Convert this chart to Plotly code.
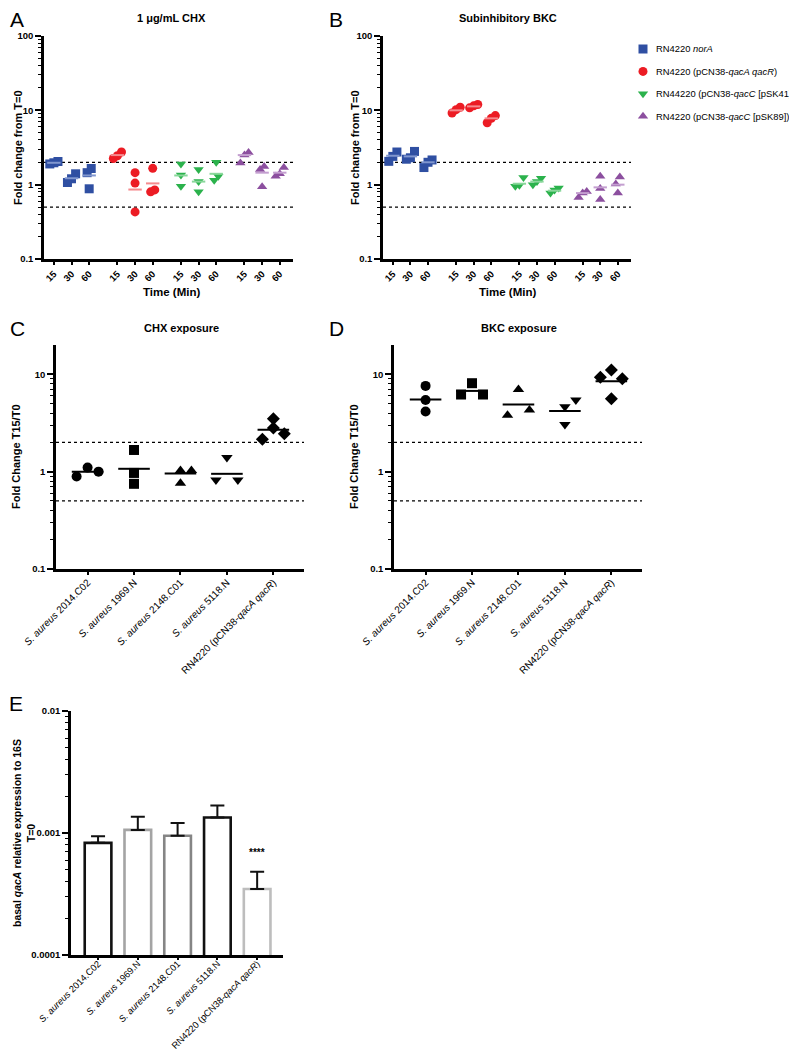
import numpy as np
import plotly.graph_objects as go

W, H = 797, 1050
FONT = "Liberation Sans"

# ---------------- Data: panels A and B ----------------
TIME_LABELS = ["15", "30", "60"]
SERIES_NAMES = [
    "RN4220 <i>norA</i>",
    "RN4220 (pCN38-<i>qacA qacR</i>)",
    "RN44220 (pCN38-<i>qacC</i> [pSK41])",
    "RN4220 (pCN38-<i>qacC</i> [pSK89])",
]
SERIES_COLORS = ["#2F4FA2", "#EC1C24", "#2BB24C", "#8C4F9F"]
SERIES_MEAN_COLORS = ["#8197CF", "#F58A8E", "#8AD79B", "#C49FD0"]
SERIES_SYMBOLS = ["square", "circle", "triangle-down", "triangle-up"]

A_VALUES = [
    [[2.05, 1.97, 1.9], [1.4, 1.2, 1.07], [1.65, 1.45, 0.88]],
    [[2.75, 2.45, 2.25], [1.45, 1.05, 0.43], [1.66, 0.85, 0.80]],
    [[1.9, 1.35, 0.95], [1.6, 1.1, 0.8], [2.0, 1.3, 1.15]],
    [[2.7, 2.5, 1.95], [1.75, 1.6, 0.94], [1.7, 1.4, 1.3]],
]
A_MEANS = [[1.97, 1.22, 1.33], [2.5, 0.86, 1.04], [1.33, 1.1, 1.4], [2.5, 1.45, 1.45]]

B_VALUES = [
    [[2.75, 2.4, 2.06], [2.8, 2.3, 2.2], [2.15, 2.0, 1.7]],
    [[11.0, 10.2, 9.2], [12.0, 11.5, 10.8], [8.5, 7.8, 6.8]],
    [[1.25, 0.98, 0.95], [1.22, 1.1, 1.0], [0.9, 0.85, 0.77]],
    [[0.81, 0.77, 0.67], [1.3, 0.89, 0.63], [1.27, 1.02, 0.77]],
]
B_MEANS = [[2.45, 2.4, 2.0], [10.0, 11.3, 7.8], [1.03, 1.1, 0.83], [0.77, 0.92, 1.0]]

THRESHOLDS = [2.0, 0.5]

# ---------------- Data: panels C and D ----------------
STRAIN_LABELS = [
    "<i>S. aureus</i> 2014.C02",
    "<i>S. aureus</i> 1969.N",
    "<i>S. aureus</i> 2148.C01",
    "<i>S. aureus</i> 5118.N",
    "RN4220 (pCN38-<i>qacA qacR</i>)",
]
STRAIN_SYMBOLS = ["circle", "square", "triangle-up", "triangle-down", "diamond"]

C_VALUES = [[0.89, 1.1, 1.0], [1.67, 0.97, 0.75], [1.03, 1.03, 0.76],
            [1.4, 0.82, 0.82], [3.5, 2.8, 2.45, 2.15]]
C_MEANS = [1.0, 1.07, 0.96, 0.95, 2.7]

D_VALUES = [[7.6, 5.45, 4.15], [8.1, 6.2, 6.2], [7.0, 4.3, 3.8],
            [5.45, 4.65, 3.05], [11.1, 9.3, 9.0, 5.6]]
D_MEANS = [5.5, 6.75, 4.9, 4.2, 8.5]

# scatter "slots" (horizontal jitter in marker widths, as drawn in the reference)
C_SLOTS = [[-1, 0, 1], [0, 0, 0], [0, 1, 0], [0, -1, 1], [0, 0, 1, -1]]
D_SLOTS = [[0, 0, 0], [0, -1, 1], [0, 1, -1], [1, 0, 0], [0, -1, 1, 0]]
SLOT_WIDTH = 0.236

# ---------------- Data: panel E ----------------
E_VALUES = [0.00083, 0.00106, 0.00095, 0.00134, 0.000348]
E_ERR_TOP = [0.00094, 0.00136, 0.00121, 0.00168, 0.000481]
E_EDGE_COLORS = ["#111111", "#A4A4A4", "#858585", "#111111", "#BDBDBD"]
E_SIG = "****"

# ---------------- helpers ----------------
def xdom(a, b):
    return [a / W, b / W]

def ydom(top, bottom):
    return [1 - bottom / H, 1 - top / H]

def jitter(vals, px_per_decade, unit_px, msize, factor):
    logs = np.log10(np.asarray(vals, dtype=float))
    order = np.argsort(logs)
    offs = np.zeros(len(vals))
    clusters, cur = [], [order[0]]
    for i in order[1:]:
        if (logs[i] - logs[cur[-1]]) * px_per_decade < msize * 0.9:
            cur.append(i)
        else:
            clusters.append(cur)
            cur = [i]
    clusters.append(cur)
    for cl in clusters:
        n = len(cl)
        for k, idx in enumerate(cl):
            offs[idx] = (k - (n - 1) / 2) * msize * factor / unit_px
    return offs

def minor_vals(lo, hi):
    out = []
    for e in range(lo, hi):
        for k in range(2, 10):
            out.append(k * 10.0 ** e)
    return out

fig = go.Figure()

# ---------------- panel geometry ----------------
AB_GROUP_STEP = 3.6
AB_RANGE = [-0.56, 13.55]
AB_POS = [[g * AB_GROUP_STEP + j for j in range(3)] for g in range(4)]
AB_TICKVALS = [p for grp in AB_POS for p in grp]
AB_TICKTEXT = TIME_LABELS * 4
CD_RANGE = [-0.68, 4.66]
E_RANGE = [-0.68, 4.65]

panels_ab = [("x", "y", A_VALUES, A_MEANS), ("x2", "y2", B_VALUES, B_MEANS)]
for xa, ya, vals, means in panels_ab:
    for t in THRESHOLDS:
        fig.add_trace(go.Scatter(x=AB_RANGE, y=[t, t], mode="lines", xaxis=xa, yaxis=ya,
                                 line=dict(color="black", width=1.3, dash="dot"),
                                 showlegend=False, hoverinfo="skip"))
    for s in range(4):
        xs, ys = [], []
        for j in range(3):
            v = vals[s][j]
            off = jitter(v, 74.3, 17.5, 9, 0.45)
            xs += [AB_POS[s][j] + o for o in off]
            ys += v
        fig.add_trace(go.Scatter(x=xs, y=ys, mode="markers", xaxis=xa, yaxis=ya,
                                 showlegend=False,
                                 marker=dict(symbol=SERIES_SYMBOLS[s], size=9,
                                             color=SERIES_COLORS[s], line=dict(width=0))))
    for s in range(4):
        mx, my = [], []
        for j in range(3):
            p = AB_POS[s][j]
            mx += [p - 0.38, p + 0.38, None]
            my += [means[s][j], means[s][j], None]
        fig.add_trace(go.Scatter(x=mx, y=my, mode="lines", xaxis=xa, yaxis=ya,
                                 line=dict(color=SERIES_MEAN_COLORS[s], width=2),
                                 showlegend=False, hoverinfo="skip"))

panels_cd = [("x3", "y3", C_VALUES, C_MEANS, C_SLOTS), ("x4", "y4", D_VALUES, D_MEANS, D_SLOTS)]
for xa, ya, vals, means, slots in panels_cd:
    for t in THRESHOLDS:
        fig.add_trace(go.Scatter(x=CD_RANGE, y=[t, t], mode="lines", xaxis=xa, yaxis=ya,
                                 line=dict(color="black", width=1.3, dash="dot"),
                                 showlegend=False, hoverinfo="skip"))
    for i in range(5):
        v = vals[i]
        fig.add_trace(go.Scatter(x=[i + k * SLOT_WIDTH for k in slots[i]], y=v,
                                 mode="markers", xaxis=xa, yaxis=ya, showlegend=False,
                                 marker=dict(symbol=STRAIN_SYMBOLS[i], size=10,
                                             color="black", line=dict(width=0))))
    mx, my = [], []
    for i in range(5):
        mx += [i - 0.34, i + 0.34, None]
        my += [means[i], means[i], None]
    fig.add_trace(go.Scatter(x=mx, y=my, mode="lines", xaxis=xa, yaxis=ya,
                             line=dict(color="black", width=2),
                             showlegend=False, hoverinfo="skip"))

# panel E bars
fig.add_trace(go.Bar(
    x=list(range(5)), y=E_VALUES, xaxis="x5", yaxis="y5", width=0.67,
    marker=dict(color="white", line=dict(color=E_EDGE_COLORS, width=2.6)),
    error_y=dict(type="data", symmetric=False,
                 array=[t - v for t, v in zip(E_ERR_TOP, E_VALUES)],
                 arrayminus=[0] * 5, color="#111111", thickness=2, width=7),
    showlegend=False))

# ---------------- manual legend (pixel-space overlay axis) ----------------
LEG_MARK_X = 635
LEG_TEXT_X = 646
LEG_Y0 = 41
LEG_STEP = 22.4
leg_y = [LEG_Y0 + k * LEG_STEP for k in range(4)]
for s in range(4):
    fig.add_trace(go.Scatter(x=[LEG_MARK_X], y=[leg_y[s]], mode="markers",
                             xaxis="x6", yaxis="y6", showlegend=False, hoverinfo="skip",
                             marker=dict(symbol=SERIES_SYMBOLS[s], size=9,
                                         color=SERIES_COLORS[s], line=dict(width=0))))

# ---------------- axes ----------------
axis_common = dict(showline=True, linewidth=2.5, linecolor="black", ticks="outside",
                   tickcolor="black", tickwidth=2, showgrid=False, zeroline=False,
                   mirror=False, automargin=False)
tick_bold = dict(family=FONT, size=9.5, color="black", weight="bold")
tick_strain = dict(family=FONT, size=10, color="black")
tick_strain_e = dict(family=FONT, size=9.3, color="black")

def yaxis_log(lo_exp, hi_exp, rng, dom, anchor, labels):
    tv = [10.0 ** e for e in range(lo_exp, hi_exp + 1)]
    return dict(axis_common, type="log", range=rng, domain=dom, anchor=anchor,
                tickvals=tv, ticktext=labels, ticklen=6, tickfont=tick_bold,
                minor=dict(tickvals=minor_vals(lo_exp, hi_exp), ticks="outside",
                           ticklen=3, tickwidth=1.2, tickcolor="black"))

def xaxis_cat(dom, anchor, rng, tv, tt, font, tl=3, standoff=0):
    return dict(axis_common, domain=dom, anchor=anchor, range=rng, tickvals=tv,
                ticktext=tt, tickangle=-45, ticklen=tl, tickwidth=1.5, tickfont=font,
                ticklabelstandoff=standoff)

hidden = dict(visible=False, showgrid=False, zeroline=False, automargin=False)

fig.update_layout(
    xaxis=xaxis_cat(xdom(36, 285), "y", AB_RANGE, AB_TICKVALS, AB_TICKTEXT, tick_bold),
    yaxis=yaxis_log(-1, 2, [-1, 2], ydom(28, 251), "x", ["0.1", "1", "10", "100"]),
    xaxis2=xaxis_cat(xdom(375, 623), "y2", AB_RANGE, AB_TICKVALS, AB_TICKTEXT, tick_bold),
    yaxis2=yaxis_log(-1, 2, [-1, 2], ydom(28, 251), "x2", ["0.1", "1", "10", "100"]),
    xaxis3=xaxis_cat(xdom(48, 296), "y3", CD_RANGE, list(range(5)), STRAIN_LABELS,
                     tick_strain, standoff=-2),
    yaxis3=yaxis_log(-1, 1, [-1, np.log10(20)], ydom(337, 561), "x3", ["0.1", "1", "10"]),
    xaxis4=xaxis_cat(xdom(386, 634), "y4", CD_RANGE, list(range(5)), STRAIN_LABELS,
                     tick_strain, standoff=-2),
    yaxis4=yaxis_log(-1, 1, [-1, np.log10(20)], ydom(337, 561), "x4", ["0.1", "1", "10"]),
    xaxis5=xaxis_cat(xdom(63, 275), "y5", E_RANGE, list(range(5)), STRAIN_LABELS,
                     tick_strain_e, tl=2, standoff=-5),
    yaxis5=yaxis_log(-4, -2, [-4, -2], ydom(703, 947), "x5", ["0.0001", "0.001", "0.01"]),
    xaxis6=dict(hidden, domain=[0, 1], range=[0, W], anchor="y6"),
    yaxis6=dict(hidden, domain=[0, 1], range=[H, 0], anchor="x6"),
)

# ---------------- annotations ----------------
ann = []

def add_text(x, y, text, size, bold=False, angle=0, xanchor="center"):
    ann.append(dict(x=x / W, y=1 - y / H, xref="paper", yref="paper", text=text,
                    showarrow=False, textangle=angle, xanchor=xanchor, yanchor="middle",
                    font=dict(family=FONT, size=size, color="black",
                              weight="bold" if bold else "normal")))

for letter, (lx, ly) in zip("ABCDE", [(9, 11), (328, 11), (9, 320), (328, 320), (8, 695)]):
    add_text(lx, ly, letter, 21)

add_text(163, 10, "1 μg/mL CHX", 11, bold=True)
add_text(500, 10, "Subinhibitory BKC", 11, bold=True)
add_text(173, 320, "CHX exposure", 11, bold=True)
add_text(511, 320, "BKC exposure", 11, bold=True)
add_text(163, 284, "Time (Min)", 11.5, bold=True)
add_text(499, 284, "Time (Min)", 11.5, bold=True)
add_text(10, 140, "Fold change from T=0", 11, bold=True, angle=-90)
add_text(347, 140, "Fold change from T=0", 11, bold=True, angle=-90)
add_text(8, 449, "Fold Change T15/T0", 11, bold=True, angle=-90)
add_text(346, 449, "Fold Change T15/T0", 11, bold=True, angle=-90)
add_text(16, 825, "basal <i>qacA</i> relative expression to 16S<br>T=0", 10.5,
         bold=True, angle=-90)
for s in range(4):
    add_text(LEG_TEXT_X, leg_y[s], SERIES_NAMES[s], 9.4, xanchor="left")

ann.append(dict(x=4, y=np.log10(E_ERR_TOP[4]) + 0.16, xref="x5", yref="y5", text=E_SIG,
                showarrow=False, xanchor="center", yanchor="middle",
                font=dict(family=FONT, size=10, color="black", weight="bold")))

fig.update_layout(
    annotations=ann,
    width=W, height=H, margin=dict(l=0, r=0, t=0, b=0, autoexpand=False),
    paper_bgcolor="white", plot_bgcolor="rgba(0,0,0,0)",
    font=dict(family=FONT, color="black"),
    showlegend=False,
    bargap=0.3,
)

fig.write_html("out.html")
